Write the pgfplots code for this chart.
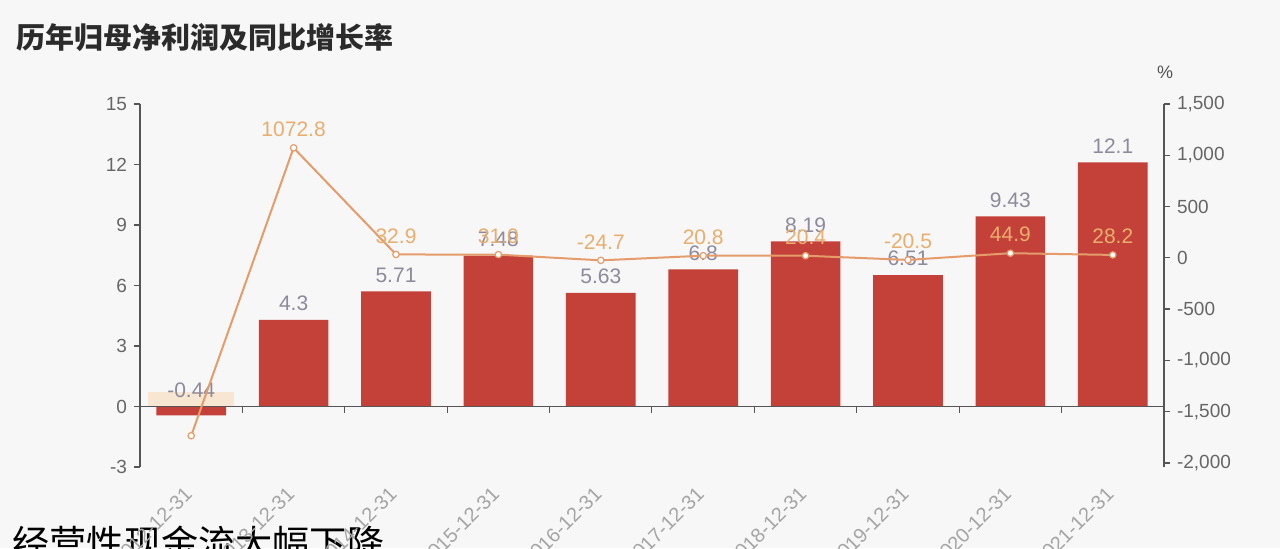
\documentclass[border=0pt]{standalone}
\usepackage{pgfplots}
\pgfplotsset{compat=1.18}
\usepackage{pgfplotstable}
\usepackage{fontspec}
\setmainfont{Liberation Sans}
\newfontfamily\cjk{Noto Sans CJK SC}

\definecolor{bg}{HTML}{F7F7F7}
\definecolor{barred}{HTML}{C4413A}
\definecolor{lineor}{HTML}{E59C6A}
\definecolor{barlab}{HTML}{8E8A9B}
\definecolor{linelab}{HTML}{E9AE6E}
\definecolor{axisgray}{HTML}{555555}
\definecolor{ticklab}{HTML}{666666}
\definecolor{xlab}{HTML}{A5A5A5}
\definecolor{titlec}{HTML}{2B2B2B}
\definecolor{peach}{HTML}{F8E2C8}

% net profit (bn) per year
\pgfplotstableread{
x  y      top   lab
0  -0.44  0     -0.44
1  4.3    4.3   4.3
2  5.71   5.71  5.71
3  7.48   7.48  7.48
4  5.63   5.63  5.63
5  6.8    6.8   6.8
6  8.19   8.19  8.19
7  6.51   6.51  6.51
8  9.43   9.43  9.43
9  12.1   12.1  12.1
}\profit

% yoy growth (%)
\pgfplotstableread{
x  g        lab
0  -1735    {}
1  1072.8   1072.8
2  32.9     32.9
3  31.0     31.0
4  -24.7    -24.7
5  20.8     20.8
6  20.4     20.4
7  -20.5    -20.5
8  44.9     44.9
9  28.2     28.2
}\growth

\begin{document}
\begin{tikzpicture}
\useasboundingbox (0pt,0pt) rectangle (640pt,274pt);
\clip (0pt,0pt) rectangle (640pt,274pt);
\fill[bg] (0pt,0pt) rectangle (640pt,274pt);

\node[anchor=base west, inner sep=0pt, text=titlec] at (8pt,250pt)
  {\cjk\bfseries\fontsize{14.5}{16}\selectfont 历年归母净利润及同比增长率};
\node[anchor=base west, inner sep=0pt, text=black] at (6pt,-4.5pt)
  {\cjk\fontsize{18.6}{20}\selectfont 经营性现金流大幅下降};
\node[text=axisgray, font=\fontsize{9}{10}\selectfont] at (582.5pt,238pt) {\%};

\begin{axis}[
  at={(70pt,40.5pt)}, anchor=south west,
  scale only axis, width=512pt, height=181.5pt,
  xmin=-0.5, xmax=9.5, ymin=-3, ymax=15,
  ytick={-3,0,3,6,9,12,15},
  axis y line*=left, axis x line*=bottom,
  x axis line style={draw=none},
  y axis line style={axisgray, line width=0.6pt},
  xtick={0,...,9},
  xticklabels={2012-12-31,2013-12-31,2014-12-31,2015-12-31,2016-12-31,
    2017-12-31,2018-12-31,2019-12-31,2020-12-31,2021-12-31},
  xtick style={draw=none},
  ytick style={axisgray, line width=0.6pt},
  tick align=outside, major tick length=3pt,
  xticklabel style={rotate=45, anchor=north east, text=xlab,
    font=\fontsize{10}{11}\selectfont, inner sep=1pt, xshift=-6pt, yshift=-0.5pt},
  yticklabel style={text=ticklab, font=\fontsize{9.5}{11}\selectfont},
  /pgf/number format/assume math mode=true,
  clip=false,
]
\fill[peach, opacity=0.8] (axis cs:-0.42,0) rectangle (axis cs:0.42,0.7);
\addplot[ybar, bar width=0.68, fill=barred, draw=none] table[x=x, y=y] {\profit};
\addplot[draw=none, mark=none, nodes near coords, point meta=explicit symbolic,
  nodes near coords style={text=barlab, font=\fontsize{10.5}{12}\selectfont,
    anchor=south, yshift=1pt}]
  table[x=x, y=top, meta=lab] {\profit};
\draw[axisgray, line width=0.5pt] (axis cs:-0.5,0) -- (axis cs:9.5,0);
\pgfplotsinvokeforeach{0,...,10}{
  \draw[axisgray, line width=0.5pt] (axis cs:#1-0.5,0) -- ++(0pt,-3pt);
}
\end{axis}

\begin{axis}[
  at={(70pt,40.5pt)}, anchor=south west,
  scale only axis, width=512pt, height=181.5pt,
  xmin=-0.5, xmax=9.5, ymin=-2040, ymax=1500,
  ytick={-2000,-1500,-1000,-500,0,500,1000,1500},
  axis y line*=right, axis x line=none,
  y axis line style={axisgray, line width=0.6pt},
  ytick style={axisgray, line width=0.6pt},
  tick align=outside, major tick length=3pt,
  yticklabel style={text=ticklab, font=\fontsize{9.5}{11}\selectfont,
    /pgf/number format/1000 sep={,}},
  /pgf/number format/assume math mode=true,
  clip=false,
]
\addplot[lineor, line width=1pt, mark=*, mark size=1.6pt,
  mark options={fill=white, draw=lineor, line width=0.6pt}]
  table[x=x, y=g] {\growth};
\addplot[draw=none, mark=none, nodes near coords, point meta=explicit symbolic,
  nodes near coords style={text=linelab, font=\fontsize{10.5}{12}\selectfont,
    anchor=south, yshift=2pt}]
  table[x=x, y=g, meta=lab] {\growth};
\end{axis}
\end{tikzpicture}
\end{document}
